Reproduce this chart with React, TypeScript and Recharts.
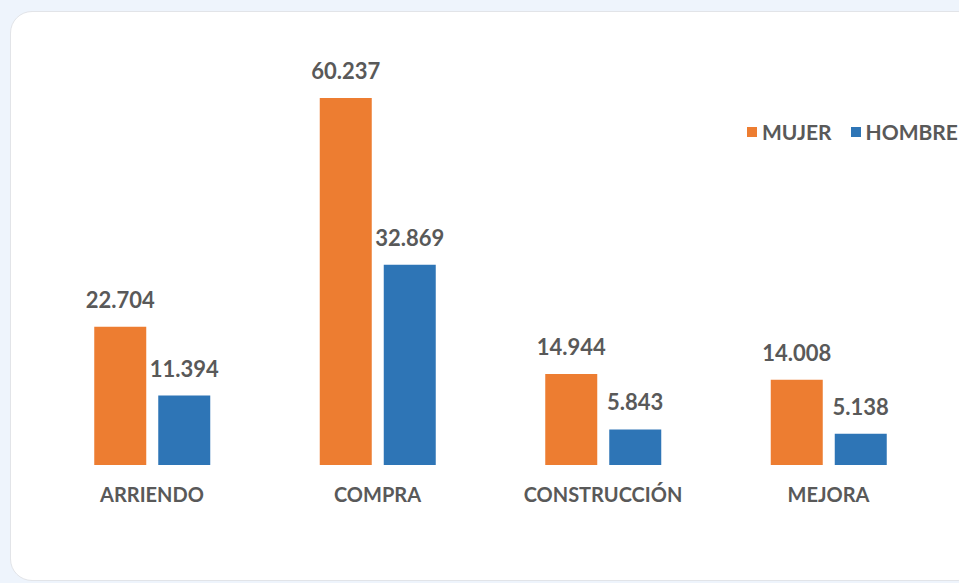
import React from "react";
import { BarChart, Bar, XAxis, YAxis, LabelList } from "recharts";

const categories = ["ARRIENDO", "COMPRA", "CONSTRUCCIÓN", "MEJORA"];
const mujer = [22704, 60237, 14944, 14008];
const hombre = [11394, 32869, 5843, 5138];
const seriesNames = ["MUJER", "HOMBRE"];
const colors = ["#ED7D31", "#2E75B6"];

const data = categories.map((c, i) => ({ name: c, mujer: mujer[i], hombre: hombre[i] }));

const FONT = "Lato, 'Open Sans', sans-serif";
const TEXT = "#595959";

const fmt = (v: number) => {
  const s = String(v);
  return s.length > 3 ? s.slice(0, s.length - 3) + "." + s.slice(s.length - 3) : s;
};

const Tick = (props: any) => {
  const { x, y, payload } = props;
  return (
    <text x={x} y={y + 29} textAnchor="middle" fill={TEXT} fontFamily={FONT} fontWeight={700} fontSize={20}>
      {payload.value}
    </text>
  );
};

export default function App() {
  return (
    <div style={{ position: "fixed", left: 0, top: 0, width: 959, height: 583, background: "#EEF4FC", overflow: "hidden" }}>
      <div
        style={{
          position: "absolute",
          left: 10,
          top: 11,
          width: 970,
          height: 570,
          background: "#FFFFFF",
          border: "1px solid #E2E4E8",
          borderRadius: 22,
          boxSizing: "border-box",
        }}
      />
      <div style={{ position: "absolute", left: 0, top: 0 }}>
        <BarChart
          width={959}
          height={583}
          data={data}
          margin={{ top: 38.5, right: 17.75, bottom: 88, left: 39.25 }}
          barGap={12}
          barSize={52}
        >
          <XAxis dataKey="name" axisLine={false} tickLine={false} tick={<Tick />} height={30} interval={0} />
          <YAxis hide domain={[0, 70000]} width={0} />
          <Bar dataKey="mujer" name="MUJER" fill={colors[0]} isAnimationActive={false}>
            <LabelList
              dataKey="mujer"
              position="top"
              offset={19}
              formatter={(v: any) => fmt(v)}
              fill={TEXT}
              fontFamily={FONT}
              fontWeight={700}
              fontSize={22}
            />
          </Bar>
          <Bar dataKey="hombre" name="HOMBRE" fill={colors[1]} isAnimationActive={false}>
            <LabelList
              dataKey="hombre"
              position="top"
              offset={19}
              formatter={(v: any) => fmt(v)}
              fill={TEXT}
              fontFamily={FONT}
              fontWeight={700}
              fontSize={22}
            />
          </Bar>
        </BarChart>
      </div>
      <div
        style={{
          position: "absolute",
          left: 747,
          top: 119,
          display: "flex",
          alignItems: "center",
          fontFamily: FONT,
          fontWeight: 700,
          fontSize: 21,
          color: TEXT,
          whiteSpace: "nowrap",
        }}
      >
        {seriesNames.map((n, i) => (
          <span key={n} style={{ display: "inline-flex", alignItems: "center", marginRight: 19 }}>
            <span style={{ display: "inline-block", width: 10, height: 10, background: colors[i], marginRight: 5 }} />
            {n}
          </span>
        ))}
      </div>
    </div>
  );
}
